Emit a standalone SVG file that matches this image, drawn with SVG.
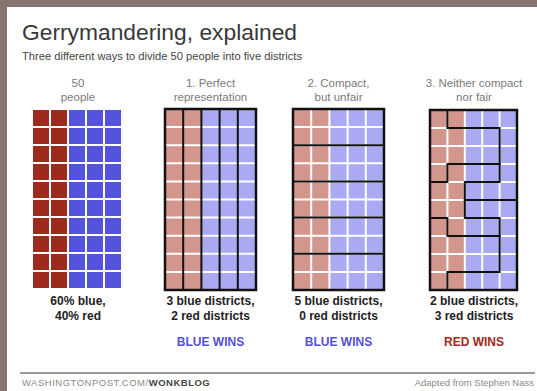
<svg xmlns="http://www.w3.org/2000/svg" width="537" height="391" viewBox="0 0 537 391">
<style>
  text { font-family: "Liberation Sans", Arial, sans-serif; }
  .title { font-size: 22px; fill: #383838; }
  .sub { font-size: 10px; fill: #444; }
  .hdr { font-size: 11.5px; fill: #7a7a7a; text-anchor: middle; }
  .lbl { font-size: 12px; font-weight: bold; fill: #222; text-anchor: middle; }
  .bw { font-size: 12px; font-weight: bold; fill: #5151d9; text-anchor: middle; }
  .rw { font-size: 12px; font-weight: bold; fill: #a3281b; text-anchor: middle; }
  .foot { font-size: 9.5px; fill: #8a8a8a; }
  .dr { fill: #9e2a1e; }
  .db { fill: #5353dc; }
  .lr { fill: #d3968d; }
  .lb { fill: #aaaaf3; }
  .wl { stroke: #ffffff; stroke-width: 2; fill: none; }
  .bl { stroke: #111; stroke-width: 2; fill: none; stroke-linecap: square; }
  .ob { stroke: #111; stroke-width: 2.5; fill: none; }
</style>
<defs>
  <pattern id="cellsR" x="33" y="110" width="18" height="18" patternUnits="userSpaceOnUse">
    <rect width="16" height="16" class="dr"/>
  </pattern>
  <pattern id="cellsB" x="33" y="110" width="18" height="18" patternUnits="userSpaceOnUse">
    <rect width="16" height="16" class="db"/>
  </pattern>
</defs>

<rect x="0" y="0" width="537" height="391" fill="#86756f"/>
<rect x="7" y="7" width="530" height="384" fill="#ffffff"/>

<g id="header">
  <text class="title" x="22" y="40" textLength="275" lengthAdjust="spacingAndGlyphs">Gerrymandering, explained</text>
  <text class="sub" x="22" y="60" textLength="280" lengthAdjust="spacingAndGlyphs">Three different ways to divide 50 people into five districts</text>
</g>

<g id="panel-people">
  <text class="hdr" x="78" y="87">50</text>
  <text class="hdr" x="78" y="101">people</text>
  <rect x="33" y="110" width="36" height="180" fill="url(#cellsR)"/>
  <rect x="69" y="110" width="54" height="180" fill="url(#cellsB)"/>
  <text class="lbl" x="78" y="305">60% blue,</text>
  <text class="lbl" x="78" y="320">40% red</text>
</g>

<g id="panel-perfect">
  <text class="hdr" x="210.5" y="87">1. Perfect</text>
  <text class="hdr" x="210.5" y="101">representation</text>
  <rect class="lr" x="165" y="109" width="36.4" height="181"/>
  <rect class="lb" x="201.4" y="109" width="54.6" height="181"/>
  <path class="wl" d="M165 127.1H256M165 145.2H256M165 163.3H256M165 181.4H256M165 199.5H256M165 217.6H256M165 235.7H256M165 253.8H256M165 271.9H256"/>
  <path class="bl" d="M183.2 109V290M201.4 109V290M219.6 109V290M237.8 109V290"/>
  <rect class="ob" x="165" y="109" width="91" height="181"/>
  <text class="lbl" x="210.5" y="305">3 blue districts,</text>
  <text class="lbl" x="210.5" y="320">2 red districts</text>
  <text class="bw" x="210.5" y="346">BLUE WINS</text>
</g>

<g id="panel-compact">
  <text class="hdr" x="338.5" y="87">2. Compact,</text>
  <text class="hdr" x="338.5" y="101">but unfair</text>
  <rect class="lr" x="293" y="109" width="36.4" height="181"/>
  <rect class="lb" x="329.4" y="109" width="54.6" height="181"/>
  <path class="wl" d="M293 127.1H384M293 145.2H384M293 163.3H384M293 181.4H384M293 199.5H384M293 217.6H384M293 235.7H384M293 253.8H384M293 271.9H384M311.2 109V290M329.4 109V290M347.6 109V290M365.8 109V290"/>
  <path class="bl" d="M293 145.2H384M293 181.4H384M293 217.6H384M293 253.8H384"/>
  <rect class="ob" x="293" y="109" width="91" height="181"/>
  <text class="lbl" x="338.5" y="305">5 blue districts,</text>
  <text class="lbl" x="338.5" y="320">0 red districts</text>
  <text class="bw" x="338.5" y="346">BLUE WINS</text>
</g>

<g id="panel-neither">
  <text class="hdr" x="474" y="87">3. Neither compact</text>
  <text class="hdr" x="474" y="101">nor fair</text>
  <rect class="lr" x="430" y="110" width="34.8" height="180"/>
  <rect class="lb" x="464.8" y="110" width="52.2" height="180"/>
  <path class="wl" d="M430 128H517M430 146H517M430 164H517M430 182H517M430 200H517M430 218H517M430 236H517M430 254H517M430 272H517M447.4 110V290M464.8 110V290M482.2 110V290M499.6 110V290"/>
  <path class="bl" d="M447.4 110V128H499.6V182H464.8V218H499.6V272H447.4V290"/>
  <path class="bl" d="M430 182H447.4V164H499.6"/>
  <path class="bl" d="M464.8 200H517"/>
  <path class="bl" d="M430 218H447.4V236H499.6"/>
  <rect class="ob" x="430" y="110" width="87" height="180"/>
  <text class="lbl" x="474" y="305">2 blue districts,</text>
  <text class="lbl" x="474" y="320">3 red districts</text>
  <text class="rw" x="474" y="346">RED WINS</text>
</g>

<g id="connectors"></g>

<g id="footer">
  <line x1="20" y1="373" x2="535" y2="373" stroke="#9a9a9a" stroke-width="2"/>
  <text class="foot" x="22" y="386" letter-spacing="0.5">WASHINGTONPOST.COM/<tspan font-weight="bold" fill="#444">WONKBLOG</tspan></text>
  <text class="foot" x="534" y="386" text-anchor="end" fill="#9a9a9a">Adapted from Stephen Nass</text>
</g>
</svg>
